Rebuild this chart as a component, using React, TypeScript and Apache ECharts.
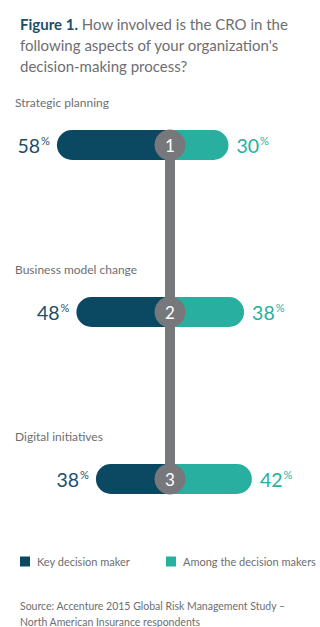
import React, { useEffect, useRef } from "react";
import * as echarts from "echarts";

const categories = ["Strategic planning", "Business model change", "Digital initiatives"];
const keyDecisionMaker = [58, 48, 38];
const amongDecisionMakers = [30, 38, 42];
const ranks = ["1", "2", "3"];
const seriesNames = ["Key decision maker", "Among the decision makers"];

const DARK = "#0b4963";
const TEAL = "#29afa0";
const GRAY = "#77787b";
const TEXT = "#6d6e71";
const FONT = "Lato, 'Noto Sans', sans-serif";

export default function App() {
  const ref = useRef<HTMLDivElement>(null);
  useEffect(() => {
    if (!ref.current) return;
    const chart = echarts.init(ref.current, undefined, { renderer: "svg" });
    const pct = (color: string) => ({
      n: { fontSize: 19.5, fontWeight: "normal", lineHeight: 24, color, fontFamily: FONT },
      p: { fontSize: 11, fontWeight: "normal", lineHeight: 14, verticalAlign: "top", padding: [2, 0, 0, 1], color, fontFamily: FONT },
    });
    const legendBase = {
      top: 551,
      icon: "rect",
      itemWidth: 10,
      itemHeight: 10,
      textStyle: { fontSize: 11, color: TEXT, fontFamily: FONT, padding: [0, 0, 0, 2] },
    };
    chart.setOption({
      animation: false,
      textStyle: { fontFamily: FONT },
      title: [
        {
          left: 15,
          top: 8,
          text:
            "{b|Figure 1.} How involved is the CRO in the\nfollowing aspects of your organization's\ndecision-making process?",
          textStyle: {
            fontSize: 15,
            fontWeight: "normal",
            color: TEXT,
            lineHeight: 21,
            fontFamily: FONT,
            rich: {
              b: { fontSize: 15, fontWeight: "bold", color: "#1d4f68", lineHeight: 21, fontFamily: FONT },
            },
          },
        },
        {
          left: 15,
          top: 593,
          text: "Source: Accenture 2015 Global Risk Management Study –\nNorth American Insurance respondents",
          textStyle: { fontSize: 10.5, fontWeight: "normal", color: TEXT, lineHeight: 16, fontFamily: FONT },
        },
      ],
      legend: [
        { ...legendBase, left: 15, data: [seriesNames[0]] },
        { ...legendBase, left: 161, data: [seriesNames[1]] },
      ],
      grid: { left: 33.5, right: 13.5, top: 61.5, height: 501 },
      xAxis: {
        type: "value",
        min: -70,
        max: 70,
        show: false,
      },
      yAxis: {
        type: "category",
        data: categories,
        inverse: true,
        axisLine: { show: false },
        axisTick: { show: false },
        splitLine: { show: false },
        axisLabel: {
          align: "left",
          margin: 18.5,
          verticalAlign: "middle",
          formatter: (v: string) => `{t|${v}}\n{s| }`,
          rich: {
            t: { fontSize: 12, color: TEXT, fontFamily: FONT, lineHeight: 16 },
            s: { fontSize: 12, lineHeight: 86 },
          },
        },
      },
      series: [
        {
          name: seriesNames[0],
          type: "bar",
          stack: "s",
          barWidth: 30,
          data: keyDecisionMaker.map((v) => -v),
          itemStyle: { color: DARK, borderRadius: [15, 0, 0, 15] },
          label: {
            show: true,
            position: "left",
            distance: 7,
            formatter: (p: any) => `{n|${Math.abs(p.value)}}{p|%}`,
            rich: pct("#1d4f68"),
          },
          z: 2,
        },
        {
          name: seriesNames[1],
          type: "bar",
          stack: "s",
          barWidth: 30,
          data: amongDecisionMakers,
          itemStyle: { color: TEAL, borderRadius: [0, 15, 15, 0] },
          label: {
            show: true,
            position: "right",
            distance: 8,
            formatter: (p: any) => `{n|${p.value}}{p|%}`,
            rich: pct(TEAL),
          },
          z: 2,
        },
        {
          type: "line",
          data: [
            [0, 0],
            [0, categories.length - 1],
          ],
          symbol: "none",
          lineStyle: { color: GRAY, width: 10, cap: "butt" },
          silent: true,
          z: 3,
        },
        {
          type: "scatter",
          data: ranks.map((r, i) => ({ value: [0, i], name: r })),
          symbol: "circle",
          symbolSize: 31,
          itemStyle: { color: GRAY, opacity: 1 },
          label: {
            show: true,
            position: "inside",
            formatter: (p: any) => p.name,
            color: "#ffffff",
            fontSize: 17,
            fontFamily: FONT,
          },
          z: 4,
        },
      ],
    });
    return () => chart.dispose();
  }, []);
  return (
    <div
      ref={ref}
      style={{ position: "absolute", left: 0, top: 0, width: 320, height: 627, background: "#ffffff" }}
    />
  );
}
